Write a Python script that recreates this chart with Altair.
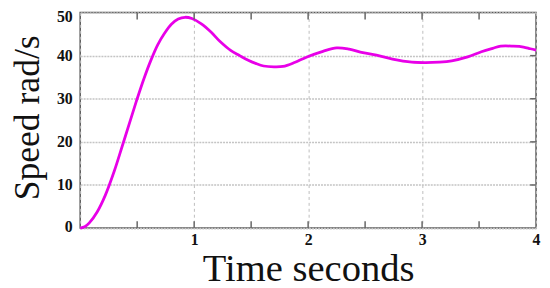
import altair as alt
import pandas as pd

# Speed response
time_s = [0, 0.04, 0.08, 0.15, 0.22, 0.30, 0.37, 0.44, 0.50, 0.56, 0.62, 0.68,
          0.74, 0.80, 0.86, 0.92, 0.98, 1.06, 1.15, 1.23, 1.32, 1.40, 1.47, 1.54, 1.61,
          1.70, 1.78, 1.88, 1.99, 2.13, 2.25, 2.36, 2.48, 2.60, 2.74, 2.91, 3.03, 3.15,
          3.26, 3.40, 3.52, 3.62, 3.69, 3.80, 3.89, 3.95, 4.0]
speed = [0, 0.3, 1.2, 3.8, 7.6, 13.3, 19.1, 25.0, 30.0, 34.7, 38.9, 42.5,
         45.2, 47.3, 48.5, 48.9, 48.6, 47.4, 45.4, 43.2, 41.2, 40.0, 39.0, 38.2, 37.6,
         37.4, 37.5, 38.4, 39.7, 41.0, 41.8, 41.5, 40.7, 40.1, 39.2, 38.5, 38.4, 38.5,
         38.8, 39.7, 40.9, 41.7, 42.2, 42.2, 42.0, 41.6, 41.3]

x_ticks = [0, 0.5, 1, 1.5, 2, 2.5, 3, 3.5, 4]
y_ticks = [0, 10, 20, 30, 40, 50]

W, H = 461, 218

df = pd.DataFrame({"t": time_s, "v": speed})
xt = pd.DataFrame({"t": x_ticks[1:-1]})
yt = pd.DataFrame({"v": y_ticks[1:-1]})

xscale = alt.Scale(domain=[0, 4], nice=False, zero=False)
yscale = alt.Scale(domain=[0, 50], nice=False)

font = "Liberation Serif"

line = alt.Chart(df).mark_line(color="#e800e8", strokeWidth=2.8, interpolate="catmull-rom").encode(
    x=alt.X("t:Q", scale=xscale,
            axis=alt.Axis(values=x_ticks, title="Time seconds", format="d",
                          labelExpr="datum.value % 1 == 0 && datum.value > 0 ? datum.label : ''",
                          labelFont=font, labelFontWeight="bold", labelFontSize=16,
                          labelColor="#111", labelPadding=4, ticks=False, domain=False,
                          grid=True, gridColor="#bdbdbd", gridDash=[3, 3], gridWidth=1,
                          titleFont=font, titleFontSize=39, titleFontWeight="normal",
                          titleColor="#111", titleBaseline="alphabetic", titleY=53,
                          labelFlush=False)),
    y=alt.Y("v:Q", scale=yscale,
            axis=alt.Axis(values=y_ticks, title="Speed rad/s", format="d",
                          labelFont=font, labelFontWeight="bold", labelFontSize=16,
                          labelColor="#111", labelPadding=8, ticks=False, domain=False,
                          labelFlush=False,
                          labelOffset=alt.ExprRef("datum.value == 50 ? 4 : (datum.value == 0 ? -2 : 0)"),
                          grid=True, gridColor="#c4c4c4", gridDash=[2, 1], gridWidth=1.6,
                          titleFont=font, titleFontSize=36, titleFontWeight="normal",
                          titleColor="#111", titleAngle=-90, titleBaseline="alphabetic",
                          titleAlign="center", titleX=-42, titleY=106)),
)

tick_color = "#666"
top_ticks = alt.Chart(xt).mark_rule(color=tick_color, strokeWidth=1.5).encode(
    x=alt.X("t:Q", scale=xscale), y=alt.value(0), y2=alt.value(7))
bot_ticks = alt.Chart(xt).mark_rule(color=tick_color, strokeWidth=1.5).encode(
    x=alt.X("t:Q", scale=xscale), y=alt.value(H), y2=alt.value(H - 7))
right_ticks = alt.Chart(yt).mark_rule(color=tick_color, strokeWidth=1.5).encode(
    y=alt.Y("v:Q", scale=yscale), x=alt.value(W), x2=alt.value(W - 6))

chart = alt.layer(line, top_ticks, bot_ticks, right_ticks).properties(
    width=W, height=H,
    autosize=alt.AutoSizeParams(type="none"),
    padding={"left": 73, "top": 3, "right": 6, "bottom": 59},
    background="white",
).configure_view(stroke="#555", strokeWidth=1.5)

chart.save("out.html", embed_options={"renderer": "svg", "actions": False})
